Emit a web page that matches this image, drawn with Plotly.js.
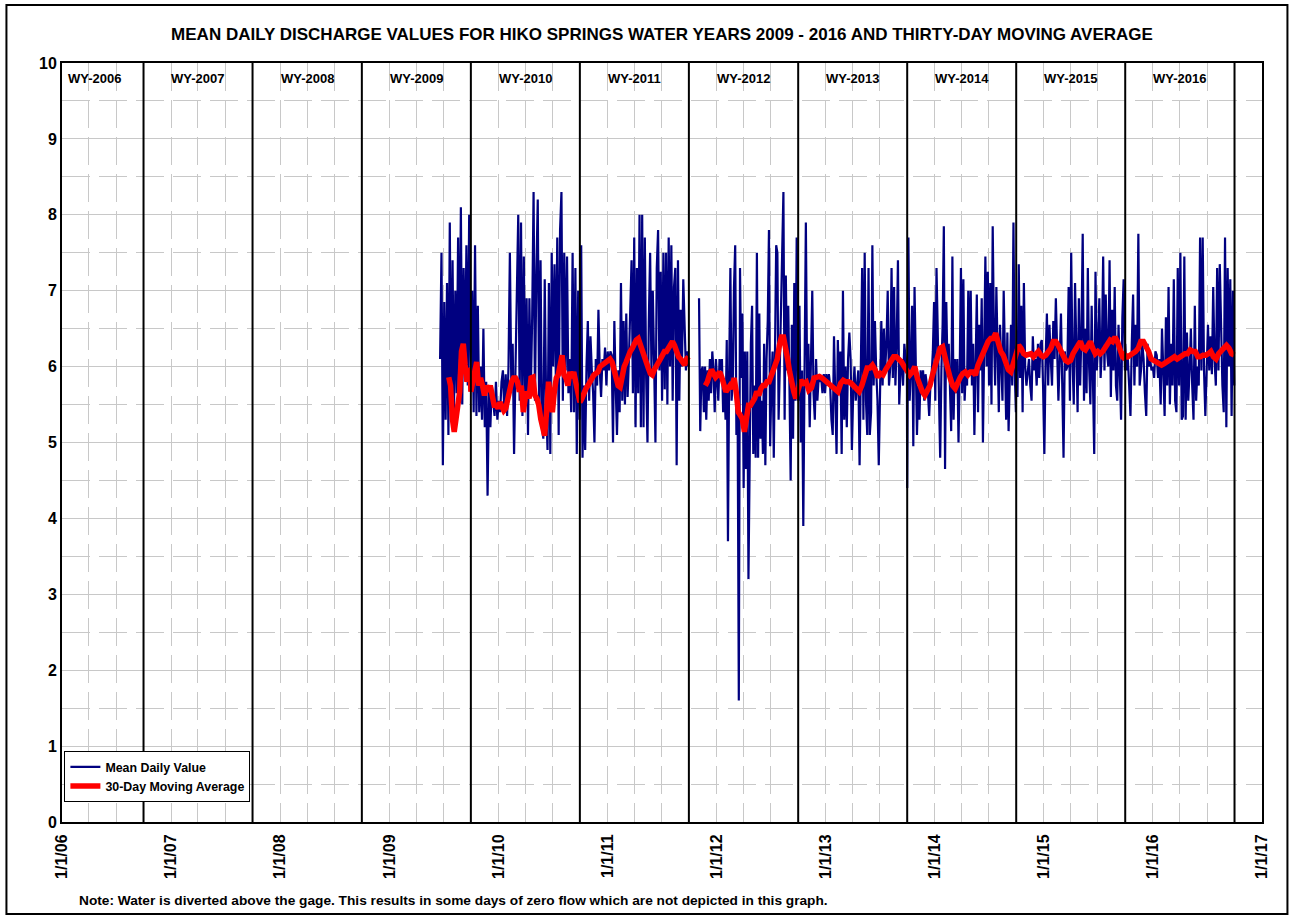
<!DOCTYPE html>
<html>
<head>
<meta charset="utf-8">
<script src="https://cdn.plot.ly/plotly-3.0.1.min.js"></script>
<style>
html,body{margin:0;padding:0;background:#fff;}
#chart{width:1295px;height:920px;}
</style>
</head>
<body>
<div id="chart"></div>
<script>
// ---------- DATA ----------
// Water-year boundaries (Oct 1) and labels
const wyBoundaries = ['2006-10-01','2007-10-01','2008-10-01','2009-10-01','2010-10-01','2011-10-01','2012-10-01','2013-10-01','2014-10-01','2015-10-01','2016-10-01'];
const wyLabels = ['WY-2006','WY-2007','WY-2008','WY-2009','WY-2010','WY-2011','WY-2012','WY-2013','WY-2014','WY-2015','WY-2016'];
const wyLabelDates = ['2006-04-21','2007-04-01','2008-04-01','2009-04-01','2010-04-01','2011-04-01','2012-04-01','2013-04-01','2014-04-01','2015-04-01','2016-04-01'];

// Mean daily discharge (cfs), per water-year segment
const dailyStarts = ['2009-06-20','2009-10-01','2010-10-01','2011-11-04','2012-10-01','2013-10-01','2014-10-01','2015-10-01'];
const dailyEnds   = ['2009-09-30','2010-09-30','2011-09-30','2012-09-30','2013-09-30','2014-09-30','2015-09-30','2016-09-30'];
const q2009 = [6.1,7.5,4.7,6.85,5.3,7.1,5.1,7.9,5.3,7.4,5.4,7.0,5.65,7.7,5.75,8.1,5.5,7.3,5.95,7.6,5.75,8.0,5.8];
const q2010 = [6.6,7.0,5.4,7.6,5.35,6.8,5.4,6.0,5.3,6.5,5.2,5.8,4.3,5.7,5.2,5.75,5.55,5.35,5.8,5.3,5.55,5.4,5.8,5.95,5.4,5.9,5.35,6.0,7.5,5.8,6.3,4.85,5.95,6.95,8.0,5.55,7.9,5.35,7.45,5.6,6.9,5.1,6.9,5.65,6.65,8.3,5.55,7.25,8.2,5.4,7.4,5.2,5.05,7.15,5.55,4.9,7.1,4.85,7.5,6.0,7.35,5.8,7.7,5.1,7.8,8.3,5.55,7.5,5.95,7.45,5.65,6.1,5.4,7.5,5.4,7.3,4.85,7.0,5.3];
const q2011 = [5.4,7.6,4.8,5.75,4.9,6.0,6.6,5.55,6.4,5.95,5.65,5.0,6.1,5.75,6.75,5.95,5.6,6.1,5.95,6.25,5.75,6.2,5.95,6.2,6.15,5.0,6.6,5.75,5.1,5.95,5.4,7.1,5.55,6.6,5.5,6.7,5.6,6.1,6.9,7.4,5.65,7.7,5.2,7.3,5.65,8.0,5.2,8.0,5.2,7.7,5.85,5.0,6.6,7.5,5.95,7.0,6.05,5.0,7.3,7.8,5.95,7.25,5.55,7.5,5.7,7.5,5.5,7.7,6.0,7.6,5.55,7.05,7.3,4.7,7.4,5.55,6.75,6.0,7.15,6.55,5.95,6.2,6.0];
const q2012 = [6.9,5.15,5.95,6.0,5.4,6.0,5.3,5.95,5.55,6.1,5.65,6.2,5.95,5.4,6.1,5.75,5.55,6.1,5.95,6.1,5.4,5.75,5.3,6.35,3.7,5.95,7.3,5.55,5.8,7.05,7.6,5.1,5.5,1.6,7.3,5.85,6.7,4.4,6.2,4.65,6.2,3.2,5.3,6.3,6.8,4.85,5.75,4.8,7.5,4.8,6.7,5.05,5.55,4.85,6.3,4.7,6.1,6.6,7.8,4.95,5.75,6.2,4.8,5.95,7.6,7.5,5.3,6.0,6.7,7.4,8.3,5.3,7.2,5.95,6.8,5.75,4.5,6.55,5.05,7.1,5.55,7.7,5.75];
const q2013 = [5.55,6.8,5.0,5.95,3.9,6.0,7.9,5.75,6.3,5.2,5.95,7.0,5.65,5.3,6.1,5.55,5.85,5.8,5.85,5.65,5.9,5.65,5.9,5.75,5.9,5.75,5.3,5.1,6.4,5.65,4.85,6.35,5.65,6.2,4.85,7.0,5.3,6.0,5.2,6.1,6.45,6.1,4.9,5.65,6.0,5.55,5.75,5.95,4.7,5.95,7.3,5.3,7.5,5.55,5.1,7.3,5.1,5.4,7.6,5.75,6.6,5.95,5.55,4.7,5.95,6.6,5.75,6.5,5.95,6.3,7.0,5.75,6.0,7.3,5.85,7.05,5.75,6.3,7.4,5.5,5.95,6.1,5.75,6.3,6.1,5.95];
const q2014 = [4.4,7.7,5.55,5.95,6.8,4.95,7.05,5.95,5.1,5.75,5.3,5.95,5.65,5.95,5.55,5.9,5.75,5.65,5.35,5.75,5.9,6.2,6.85,5.55,7.3,6.45,5.85,4.8,5.95,6.55,7.85,4.65,6.85,5.95,6.3,5.75,5.15,7.45,5.3,6.1,5.65,6.1,5.0,5.95,7.3,5.65,7.15,5.55,5.95,5.75,7.0,5.95,7.0,5.75,6.3,5.1,6.1,6.95,5.4,6.55,5.95,6.9,5.0,6.65,7.45,6.0,7.25,5.75,7.1,5.5,7.85,6.45,5.75,7.05,6.0,5.4,6.55,5.95,5.55,7.0,6.1,5.3,6.45,5.15,5.85,6.55,5.75,7.9,5.95,5.4];
const q2015 = [6.2,5.6,7.35,5.85,6.8,5.4,7.1,6.0,5.75,5.95,6.1,5.75,5.55,6.4,5.95,6.1,5.75,6.3,5.85,6.3,6.35,5.75,4.85,6.1,6.7,5.75,6.55,6.1,5.75,6.6,6.1,6.9,5.95,5.55,6.1,6.7,5.75,4.8,6.2,5.95,6.0,7.05,5.55,7.5,6.1,5.5,7.1,5.95,5.4,6.9,5.75,6.45,7.75,5.55,6.5,5.65,7.3,6.0,5.5,6.8,5.75,4.85,7.25,5.95,6.3,6.9,5.85,6.25,7.45,5.95,6.95,6.2,6.0,7.4,5.6,6.75,5.95,7.05,5.75,5.55,6.55,5.75,5.3,6.65,7.15,5.95];
const q2016 = [6.3,5.95,6.1,5.75,5.35,6.3,6.95,5.75,6.55,6.0,7.75,5.75,5.95,6.3,6.1,5.65,5.35,6.3,6.0,6.1,5.95,6.0,5.85,6.2,6.15,5.85,6.1,5.5,6.5,5.95,5.35,6.65,5.75,7.05,5.5,6.3,5.75,7.15,5.55,5.4,7.3,5.75,7.5,5.3,5.35,7.45,5.3,6.45,5.55,5.95,6.5,5.75,5.3,6.8,5.55,6.0,5.75,7.7,5.95,7.7,5.95,5.35,6.1,6.55,5.95,6.4,5.9,7.05,6.1,5.75,7.3,5.95,7.35,6.45,5.75,5.4,7.7,5.2,7.3,6.0,7.15,5.35,7.0,5.75];

// Thirty-day moving average (cfs), per segment
const avgStarts = ['2009-07-19','2009-10-01','2010-10-01','2011-11-25','2012-10-01','2013-10-01','2014-10-01','2015-10-01'];
const avgEnds   = ['2009-09-30','2010-09-30','2011-09-30','2012-09-30','2013-09-30','2014-09-30','2015-09-30','2016-09-30'];
const m2009 = [5.86,5.75,5.31,5.14,5.31,5.53,5.67,6.2,6.3,6.02,5.8,5.98,5.85];
const m2010 = [5.67,5.8,6.02,6.06,5.75,5.85,5.75,5.62,5.75,5.67,5.75,5.58,5.49,5.49,5.45,5.53,5.49,5.42,5.45,5.58,5.75,5.8,5.85,5.85,5.8,5.67,5.75,5.4,5.58,5.67,5.58,5.85,5.86,5.62,5.58,5.49,5.31,5.22,5.09,5.4,5.8,5.62,5.4,5.67,5.85,5.89,6.02,6.15,5.89,5.85,5.75,5.93,5.85,5.93,5.8,5.7,5.6];
const m2011 = [5.53,5.58,5.67,5.71,5.75,5.8,5.85,5.89,5.91,5.93,6.0,6.02,6.04,6.06,6.08,6.1,6.06,5.93,5.85,5.75,5.73,5.89,6.0,6.06,6.15,6.2,6.24,6.3,6.35,6.37,6.28,6.24,6.15,6.06,5.98,5.91,5.89,5.96,6.02,6.06,6.1,6.15,6.2,6.2,6.24,6.28,6.33,6.28,6.2,6.13,6.1,6.06,6.02,6.1,6.13];
const m2012 = [5.75,5.8,5.89,5.96,5.91,5.86,5.89,5.93,5.86,5.75,5.67,5.71,5.75,5.71,5.85,5.67,5.4,5.36,5.31,5.14,5.31,5.49,5.49,5.53,5.58,5.67,5.62,5.71,5.75,5.75,5.8,5.8,5.89,5.93,6.02,6.1,6.28,6.39,6.39,6.28,6.1,5.93,5.75,5.67,5.58,5.67];
const m2013 = [5.71,5.82,5.78,5.8,5.69,5.72,5.85,5.87,5.87,5.85,5.82,5.8,5.78,5.75,5.7,5.67,5.78,5.82,5.8,5.8,5.78,5.75,5.71,5.67,5.75,5.89,5.98,5.98,6.02,5.96,5.86,5.91,5.89,5.96,6.02,6.08,6.13,6.13,6.1,6.06,6.0,5.93];
const m2014 = [5.96,5.89,5.93,6.0,5.85,5.75,5.67,5.62,5.69,5.75,5.89,6.02,6.15,6.24,6.26,6.15,5.98,5.85,5.75,5.71,5.8,5.86,5.91,5.93,5.89,5.93,5.93,5.89,6.02,6.1,6.2,6.28,6.33,6.37,6.37,6.44,6.28,6.2,6.15,6.06,5.96,5.93,6.04,6.2];
const m2015 = [6.2,6.28,6.24,6.17,6.15,6.17,6.17,6.13,6.17,6.2,6.15,6.13,6.15,6.2,6.24,6.33,6.33,6.28,6.2,6.15,6.08,6.06,6.08,6.17,6.24,6.28,6.33,6.24,6.22,6.28,6.33,6.24,6.17,6.2,6.17,6.2,6.25,6.3,6.35,6.33,6.39,6.33,6.24,6.13,6.1];
const m2016 = [6.15,6.13,6.15,6.17,6.2,6.24,6.33,6.33,6.28,6.2,6.1,6.08,6.06,6.04,6.02,6.04,6.06,6.08,6.1,6.13,6.1,6.13,6.15,6.17,6.17,6.22,6.2,6.2,6.13,6.13,6.15,6.15,6.17,6.2,6.13,6.1,6.17,6.2,6.24,6.28,6.24,6.17,6.15];

const titleText = 'MEAN DAILY DISCHARGE VALUES FOR HIKO SPRINGS WATER YEARS 2009 - 2016 AND THIRTY-DAY MOVING AVERAGE';
const noteText = 'Note: Water is diverted above the gage. This results in some days of zero flow which are not depicted in this graph.';
const seriesNames = ['Mean Daily Value', '30-Day Moving Average'];

// ---------- BUILD ----------
const DAY = 86400000;
function fmt(ms){ const s = new Date(ms).toISOString(); return s.slice(0,10) + ' ' + s.slice(11,19); }
function build(starts, ends, lists){
  const xs = [], ys = [];
  let prevEnd = null;
  lists.forEach((vals, i) => {
    const a = Date.parse(starts[i]), b = Date.parse(ends[i]);
    if (prevEnd !== null && a - prevEnd > 2*DAY){ xs.push(null); ys.push(null); }
    const n = vals.length;
    vals.forEach((v, k) => {
      xs.push(fmt(a + (n > 1 ? (b - a) * k / (n - 1) : 0)));
      ys.push(v);
    });
    prevEnd = b;
  });
  return {x: xs, y: ys};
}
const daily = build(dailyStarts, dailyEnds, [q2009,q2010,q2011,q2012,q2013,q2014,q2015,q2016]);
const avg = build(avgStarts, avgEnds, [m2009,m2010,m2011,m2012,m2013,m2014,m2015,m2016]);

const FONT = 'Arial, "Liberation Sans", Helvetica, sans-serif';
const GRID = '#c8c8c8';

const traces = [
  {type:'scatter', mode:'lines', name: seriesNames[0], x: daily.x, y: daily.y,
   line:{color:'#000080', width:2.2}, connectgaps:false},
  {type:'scatter', mode:'lines', name: seriesNames[1], x: avg.x, y: avg.y,
   line:{color:'#ff0000', width:5.5}, connectgaps:false}
];

const shapes = wyBoundaries.map(d => ({
  type:'line', xref:'x', yref:'paper', x0:d, x1:d, y0:0, y1:1,
  line:{color:'#000', width:2}, layer:'above'
}));
// outer border of the figure
shapes.push({type:'rect', xref:'paper', yref:'paper', x0:-0.0463, x1:1.0212, y0:-0.1212, y1:1.0764,
  line:{color:'#000', width:2}, fillcolor:'rgba(0,0,0,0)', layer:'above'});

const annotations = wyLabels.map((t, i) => ({
  text: t, xref:'x', yref:'paper', x: wyLabelDates[i], y: 0.979,
  showarrow:false, xanchor:'center', yanchor:'middle',
  font:{family:FONT, size:13, color:'#000', weight:700}
}));
annotations.push({
  text: noteText, xref:'paper', yref:'paper', x: 0.0125, y: -0.103,
  xanchor:'left', yanchor:'middle', showarrow:false,
  font:{family:FONT, size:13.7, color:'#000', weight:700}
});

const layout = {
  width:1295, height:920,
  margin:{l:62, r:33, t:63, b:98},
  paper_bgcolor:'#fff', plot_bgcolor:'#fff',
  font:{family:FONT, color:'#000'},
  title:{text:titleText, x:0.5, xref:'paper', xanchor:'center', y:1-34/920, yanchor:'middle',
         font:{family:FONT, size:17, color:'#000', weight:700}},
  showlegend:true,
  legend:{x:0.002, y:0.093, xanchor:'left', yanchor:'top', bgcolor:'#fff',
          bordercolor:'#000', borderwidth:1, itemwidth:30, tracegroupgap:0,
          font:{family:FONT, size:12.4, color:'#000', weight:700}},
  xaxis:{type:'date', range:['2006-01-01','2017-01-01'], tick0:'2006-01-01', dtick:'M12',
         tickformat:'%-m/%-d/%y', tickangle:-90, ticks:'outside', ticklen:4, tickcolor:'rgba(0,0,0,0)',
         tickfont:{family:FONT, size:16, color:'#000', weight:700},
         showgrid:true, gridcolor:GRID, gridwidth:1, griddash:'28px,9px',
         minor:{dtick:'M3', tick0:'2006-01-01', showgrid:true, gridcolor:GRID, gridwidth:1, griddash:'28px,9px'},
         showline:true, mirror:true, linecolor:'#000', linewidth:2, zeroline:false},
  yaxis:{range:[0,10], dtick:1, tick0:0, ticks:'',
         tickfont:{family:FONT, size:16, color:'#000', weight:700},
         showgrid:true, gridcolor:GRID, gridwidth:1,
         minor:{dtick:0.5, tick0:0, showgrid:true, gridcolor:GRID, gridwidth:1, griddash:'28px,9px'},
         showline:true, mirror:true, linecolor:'#000', linewidth:2, zeroline:false},
  shapes: shapes,
  annotations: annotations
};

Plotly.newPlot('chart', traces, layout, {staticPlot:true, displayModeBar:false});
</script>
</body>
</html>
